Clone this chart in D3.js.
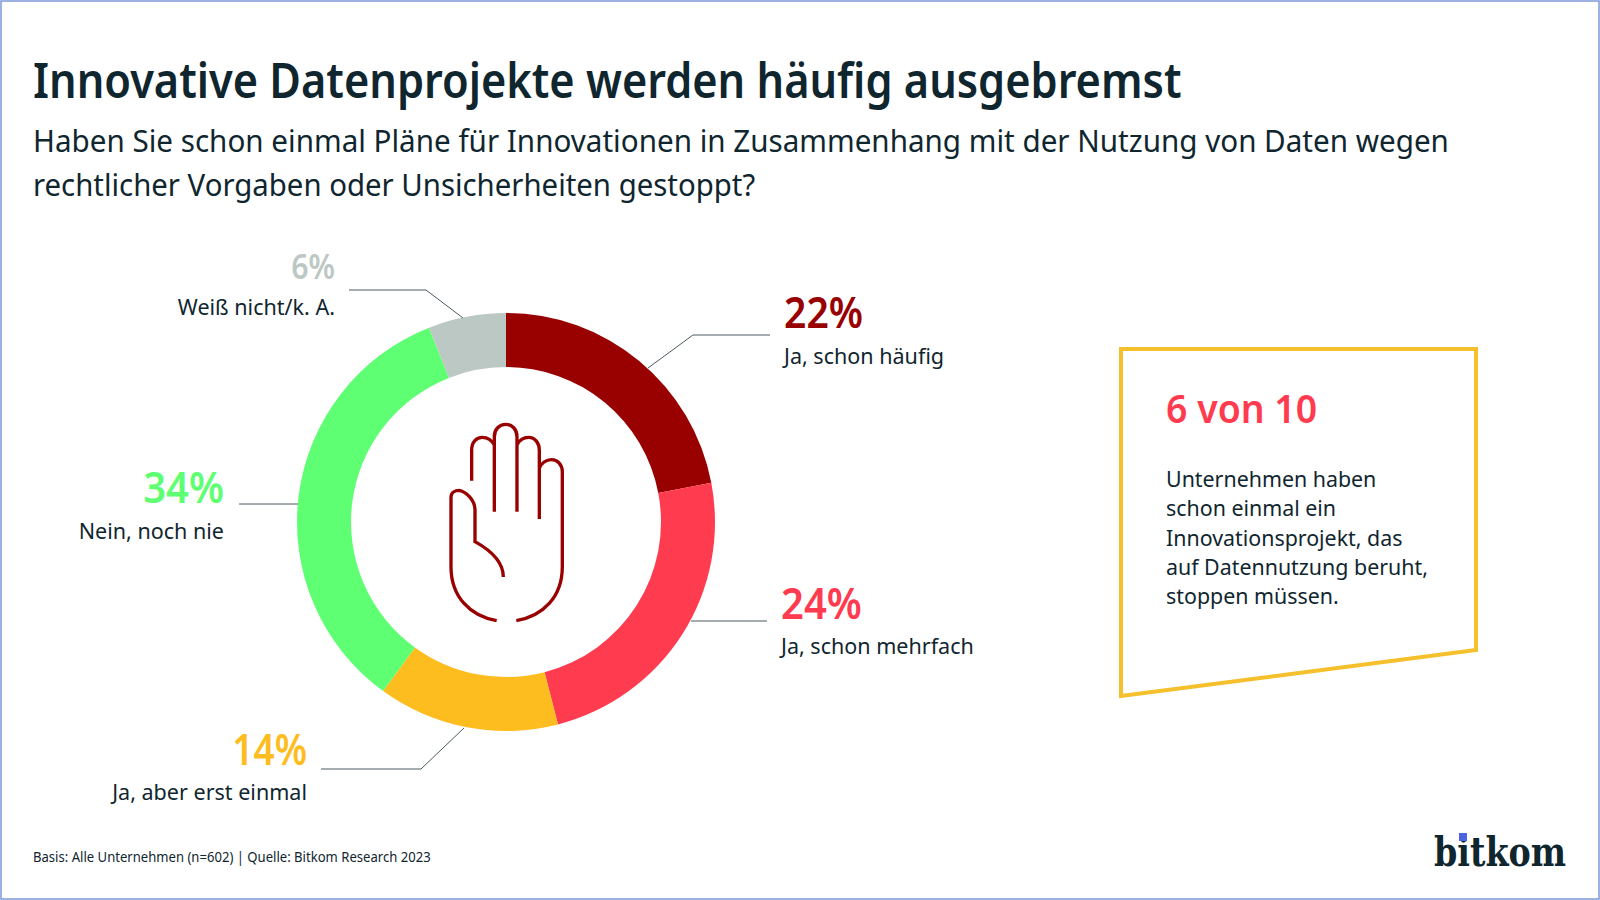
<!DOCTYPE html>
<html>
<head>
<meta charset="utf-8">
<style>
  html, body { margin: 0; padding: 0; background: #fff; }
  text { font-family: "Noto Sans", sans-serif; fill: #10262f; }
</style>
<script src="https://cdn.jsdelivr.net/npm/d3@7"></script>
</head>
<body>
<svg id="chart" width="1600" height="900"></svg>
<script>
var categories = ['Ja, schon häufig', 'Ja, schon mehrfach', 'Ja, aber erst einmal', 'Nein, noch nie', 'Weiß nicht/k. A.']
var values = [22, 24, 14, 34, 6]
var colors = ['#990000', '#ff3b50', '#fdbd1f', '#5fff73', '#bcc8c3']
var boxLines = ['Unternehmen haben', 'schon einmal ein', 'Innovationsprojekt, das', 'auf Datennutzung beruht,', 'stoppen müssen.']
var subtitleLines = [
  'Haben Sie schon einmal Pläne für Innovationen in Zusammenhang mit der Nutzung von Daten wegen',
  'rechtlicher Vorgaben oder Unsicherheiten gestoppt?'
]

var svg = d3.select('#chart')
var width = 1600, height = 900

// no condensed Noto installed, so narrow the glyphs to the width of the original face
function squeeze(sel, k) {
  sel.each(function(d, i) {
    var w = this.getComputedTextLength()
    var f = typeof k === 'function' ? k(d, i) : k
    d3.select(this).attr('textLength', w * f).attr('lengthAdjust', 'spacingAndGlyphs')
  })
  return sel
}

// thin blue frame of the picture
svg.append('rect')
  .attr('x', 1).attr('y', 1)
  .attr('width', width - 2).attr('height', height - 2)
  .attr('fill', 'none').attr('stroke', '#7d97dc').attr('stroke-width', 1.5)

svg.append('text').attr('x', 33).attr('y', 98)
  .attr('font-size', 49.5).attr('font-weight', 600)
  .text('Innovative Datenprojekte werden häufig ausgebremst')
  .call(squeeze, 0.875)

svg.selectAll('.sub').data(subtitleLines).enter().append('text')
  .attr('class', 'sub')
  .attr('x', 33)
  .attr('y', function(d, i) { return 152 + i * 44 })
  .attr('font-size', 31)
  .text(function(d) { return d })
  .call(squeeze, function(d, i) { return i ? 0.947 : 0.955 })

// donut
var cx = 506, cy = 522, outer = 209, inner = 155
var pie = d3.pie().sort(null).value(function(d) { return d })
var arc = d3.arc().innerRadius(inner).outerRadius(outer)
var g = svg.append('g').attr('transform', 'translate(' + cx + ',' + cy + ')')

g.selectAll('path').data(pie(values)).enter().append('path')
  .attr('d', arc)
  .attr('fill', function(d, i) { return colors[i] })

// leaders and labels, same order as categories
var labels = [
  { pts: [[648, 368], [693, 335], [770, 335]], x: 784, y: 328, sy: 364, anchor: 'start', size: 44, k: 0.89 },
  { pts: [[691, 621], [767, 621]], x: 781, y: 619, sy: 654, anchor: 'start', size: 44, k: 0.91 },
  { pts: [[464, 728], [421, 769], [321, 769]], x: 307, y: 765, sy: 800, anchor: 'end', size: 44, k: 0.84 },
  { pts: [[298, 504], [239, 504]], x: 224, y: 503, sy: 539, anchor: 'end', size: 44, k: 0.91 },
  { pts: [[463, 318], [426, 290], [349, 290]], x: 335, y: 279, sy: 315, anchor: 'end', size: 34, k: 0.89 }
]
var line = d3.line()

labels.forEach(function(l, i) {
  svg.append('path').attr('d', line(l.pts))
    .attr('fill', 'none').attr('stroke', '#4a5a60').attr('stroke-width', 1)
  svg.append('text')
    .attr('x', l.x).attr('y', l.y)
    .attr('text-anchor', l.anchor)
    .attr('font-size', l.size).attr('font-weight', 600)
    .style('fill', colors[i])
    .text(values[i] + '%')
    .call(squeeze, l.k)
  svg.append('text')
    .attr('x', l.x).attr('y', l.sy)
    .attr('text-anchor', l.anchor)
    .attr('font-size', 22.5)
    .text(categories[i])
    .call(squeeze, 0.957)
})

// hand icon, traced on a 200x240 crop at 3x
svg.append('g')
  .attr('transform', 'translate(400,400) scale(0.3333)')
  .append('path')
  .attr('d', 'M215 242 L215 150 C215 125 230 112 247 112 C262 112 275 120 283 135 L283 335 ' +
    'M283 135 L283 110 C283 88 298 73 317 73 C336 73 351 88 351 110 L351 335 ' +
    'M351 135 C358 120 372 112 386 112 C405 112 418 130 418 150 L418 357 ' +
    'M418 205 C424 190 438 179 455 179 C473 179 487 195 487 215 L487 500 C487 590 430 648 349 662 ' +
    'M290 662 C210 648 153 590 153 500 L153 292 C153 278 165 271 178 271 C198 275 225 300 225 330 L225 425 ' +
    'C270 450 310 485 310 531')
  .attr('fill', 'none').attr('stroke', '#990000').attr('stroke-width', 10)

// callout box
svg.append('path')
  .attr('d', line([[1121, 349], [1476, 349], [1476, 650], [1121, 696]]) + 'Z')
  .attr('fill', 'none').attr('stroke', '#f5c02c').attr('stroke-width', 4)

svg.append('text').attr('x', 1166).attr('y', 423)
  .attr('font-size', 39).attr('font-weight', 600)
  .style('fill', '#ff3b50')
  .text('6 von 10')
  .call(squeeze, 0.96)

svg.selectAll('.box').data(boxLines).enter().append('text')
  .attr('class', 'box')
  .attr('x', 1166)
  .attr('y', function(d, i) { return 487 + i * 29.3 })
  .attr('font-size', 22.5)
  .text(function(d) { return d })
  .call(squeeze, 0.95)

svg.append('text').attr('x', 33).attr('y', 862)
  .attr('font-size', 14)
  .text('Basis: Alle Unternehmen (n=602) | Quelle: Bitkom Research 2023')
  .call(squeeze, 0.935)

// logo
svg.append('text').attr('x', 1434).attr('y', 866)
  .attr('font-size', 41).attr('font-weight', 700)
  .style('font-family', '"DejaVu Serif", serif')
  .attr('textLength', 132).attr('lengthAdjust', 'spacingAndGlyphs')
  .text('bitkom')
svg.append('rect').attr('x', 1459).attr('y', 833).attr('width', 8).attr('height', 8).attr('fill', '#4a63e0')
</script>
</body>
</html>
